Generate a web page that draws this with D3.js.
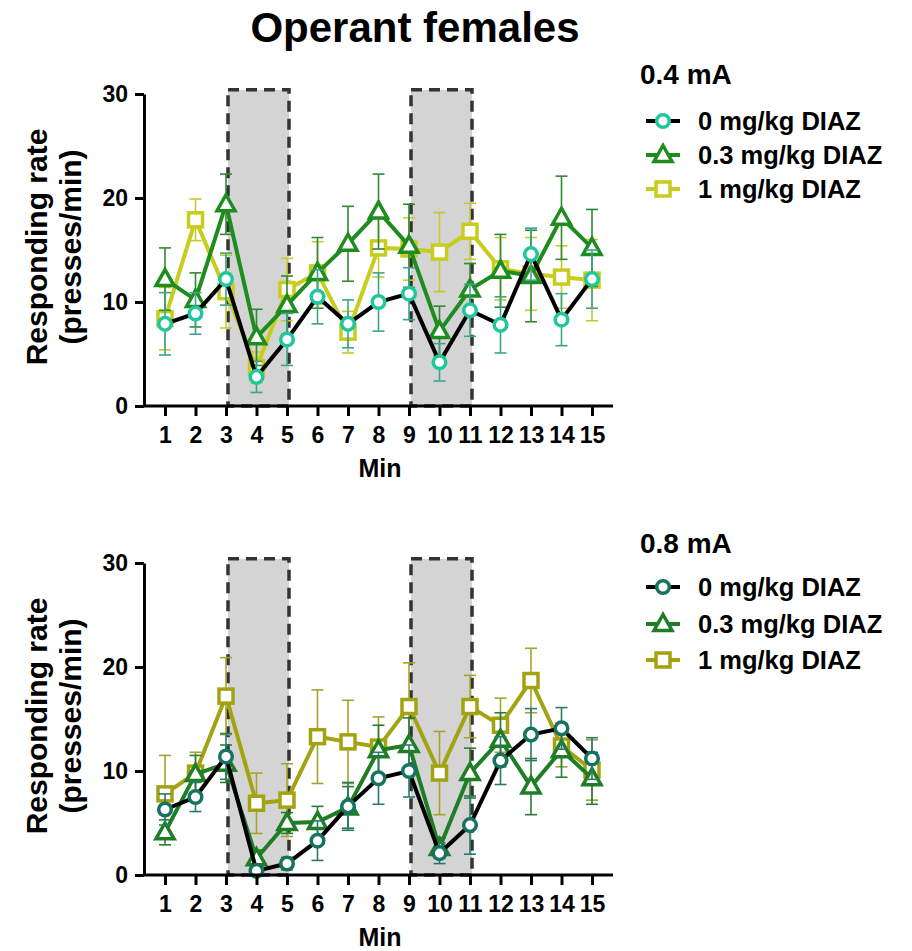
<!DOCTYPE html>
<html>
<head>
<meta charset="utf-8">
<script src="https://cdn.jsdelivr.net/npm/d3@7"></script>
<style>
  body { margin: 0; background: #fff; }
  text { font-family: "Liberation Sans", Arial, sans-serif; font-weight: bold; }
</style>
</head>
<body>
<svg id="chart" width="912" height="951"></svg>
<script>
const minutes = d3.range(1, 16);
const xTicks = minutes;
const yTicks = [0, 10, 20, 30];
const shockBlocks = [[3, 5], [9, 11]];
const doseLabels = ["0 mg/kg DIAZ", "0.3 mg/kg DIAZ", "1 mg/kg DIAZ"];

// 0.4 mA
const low0 = [7.9, 8.9, 12.2, 2.8, 6.4, 10.5, 7.9, 10.0, 10.8, 4.2, 9.2, 7.8, 14.6, 8.3, 12.2];
const low0Err = [3.0, 2.0, 2.5, 1.5, 2.5, 2.6, 2.3, 2.8, 2.5, 1.8, 2.5, 2.7, 2.5, 2.5, 2.8];
const low03 = [12.2, 10.2, 19.4, 6.6, 9.7, 12.8, 15.6, 18.7, 15.4, 7.2, 11.2, 13.0, 12.5, 18.1, 15.2];
const low03Err = [3.0, 2.6, 2.9, 2.7, 2.8, 3.4, 3.6, 3.6, 4.0, 2.4, 2.5, 3.5, 4.4, 4.0, 3.7];
const low1 = [8.4, 17.9, 11.0, 3.7, 11.2, 12.8, 7.1, 15.2, 15.1, 14.8, 16.8, 13.2, 12.7, 12.4, 12.1];
const low1Err = [3.0, 2.0, 3.5, 1.5, 3.0, 3.0, 2.0, 2.8, 3.0, 3.8, 2.7, 3.0, 3.5, 3.0, 3.9];

// 0.8 mA
const high0 = [6.3, 7.5, 11.4, 0.4, 1.1, 3.3, 6.6, 9.3, 10.0, 2.1, 4.8, 11.0, 13.5, 14.1, 11.2];
const high0Err = [1.5, 1.4, 2.2, 0.5, 0.6, 1.9, 2.3, 2.5, 2.5, 1.0, 2.8, 2.3, 2.5, 2.0, 2.0];
const high03 = [4.1, 9.7, 10.7, 1.6, 5.0, 5.1, 6.5, 12.0, 12.5, 2.6, 9.8, 13.0, 8.5, 12.0, 9.3];
const high03Err = [1.2, 1.8, 1.8, 0.8, 1.0, 1.5, 2.0, 2.4, 2.6, 1.0, 2.4, 2.6, 2.7, 2.6, 2.5];
const high1 = [7.8, 9.8, 17.2, 6.9, 7.2, 13.3, 12.8, 12.3, 16.2, 9.8, 16.2, 14.4, 18.7, 12.4, 10.1];
const high1Err = [3.7, 2.0, 3.7, 2.9, 3.5, 4.5, 4.0, 2.9, 4.2, 4.0, 3.0, 2.6, 3.1, 2.0, 2.9];

const svg = d3.select("#chart");

svg.append("text")
  .attr("x", 415).attr("y", 42)
  .attr("text-anchor", "middle")
  .style("font-size", "42px")
  .text("Operant females");

const panels = [
  {
    top: 94, title: "0.4 mA", titleY: 84, rows: [121, 155, 189],
    series: [
      { name: doseLabels[2], values: low1, err: low1Err, shape: "square", color: "#c8cc1c", line: "#c8cc1c", errColor: "#c8c830" },
      { name: doseLabels[1], values: low03, err: low03Err, shape: "triangle", color: "#1f8c1f", line: "#1f8c1f", errColor: "#2f8a2f" },
      { name: doseLabels[0], values: low0, err: low0Err, shape: "circle", color: "#20c79c", line: "#000", errColor: "#3aa58a" },
    ],
  },
  {
    top: 563, title: "0.8 mA", titleY: 553, rows: [587, 624, 660],
    series: [
      { name: doseLabels[2], values: high1, err: high1Err, shape: "square", color: "#a3a312", line: "#a3a312", errColor: "#a3a330" },
      { name: doseLabels[1], values: high03, err: high03Err, shape: "triangle", color: "#1f7d26", line: "#1f7d26", errColor: "#2b7d33" },
      { name: doseLabels[0], values: high0, err: high0Err, shape: "circle", color: "#17735f", line: "#000", errColor: "#2a7a68" },
    ],
  },
];

const PLOT_H = 312;
const LEFT = 144;

function marker(g, shape, color) {
  if (shape === "circle") {
    g.append("circle").attr("r", 6.3)
      .attr("fill", "#fff").attr("stroke", color).attr("stroke-width", 3.5);
  } else if (shape === "triangle") {
    g.append("path").attr("d", "M0,-9.5L9,6.5L-9,6.5Z")
      .attr("fill", "#fff").attr("stroke", color).attr("stroke-width", 3.5)
      .attr("stroke-linejoin", "miter");
  } else {
    g.append("rect").attr("x", -7).attr("y", -7).attr("width", 14).attr("height", 14)
      .attr("fill", "#fff").attr("stroke", color).attr("stroke-width", 3.5);
  }
}

panels.forEach((p) => {
  const x = d3.scaleLinear().domain([1, 15]).range([165, 592]);
  const y = d3.scaleLinear().domain([0, 30]).range([p.top + PLOT_H, p.top]);
  const g = svg.append("g");

  // shock blocks
  shockBlocks.forEach(([a, b]) => {
    g.append("rect")
      .attr("x", x(a) + 2).attr("y", y(30.4))
      .attr("width", x(b) - x(a)).attr("height", y(0) - y(30.4))
      .attr("fill", "#d4d4d4")
      .attr("stroke", "#333").attr("stroke-width", 3.5)
      .attr("stroke-dasharray", "11,7");
  });

  // series
  p.series.forEach((s) => {
    const pts = minutes.map((m, i) => ({ m, v: s.values[i], e: s.err[i] }));
    const eb = g.append("g");
    pts.forEach((d) => {
      eb.append("line").attr("x1", x(d.m)).attr("x2", x(d.m))
        .attr("y1", y(Math.max(0, d.v - d.e))).attr("y2", y(d.v + d.e))
        .attr("stroke", s.errColor).attr("stroke-width", 1.6);
      [d.v - d.e, d.v + d.e].forEach((yy) => {
        if (yy < 0) return;
        eb.append("line").attr("x1", x(d.m) - 6).attr("x2", x(d.m) + 6)
          .attr("y1", y(yy)).attr("y2", y(yy))
          .attr("stroke", s.errColor).attr("stroke-width", 1.6);
      });
    });
    g.append("path").datum(pts)
      .attr("fill", "none").attr("stroke", s.line).attr("stroke-width", 4)
      .attr("d", d3.line().x((d) => x(d.m)).y((d) => y(d.v)));
    pts.forEach((d) => {
      const mg = g.append("g").attr("transform", `translate(${x(d.m)},${y(d.v)})`);
      marker(mg, s.shape, s.color);
    });
  });

  // axes
  const xAxis = g.append("g").attr("transform", `translate(0,${y(0)})`)
    .call(d3.axisBottom(x).tickValues(xTicks).tickSize(10).tickPadding(11).tickSizeOuter(0));
  xAxis.select(".domain").attr("d", `M${LEFT - 1},0H${x(15) + 21}`);
  const yAxis = g.append("g").attr("transform", `translate(${LEFT},0)`)
    .call(d3.axisLeft(y).tickValues(yTicks).tickSize(9).tickPadding(7).tickSizeOuter(0));
  [xAxis, yAxis].forEach((a) => {
    a.select(".domain").attr("stroke", "#000").attr("stroke-width", 3);
    a.selectAll(".tick line").attr("stroke", "#000").attr("stroke-width", 3);
    a.selectAll(".tick text").attr("fill", "#000").style("font-size", "23px")
      .style("font-family", "'Liberation Sans', Arial, sans-serif").style("font-weight", "bold");
  });

  g.append("text")
    .attr("x", 380).attr("y", y(0) + 71)
    .attr("text-anchor", "middle").style("font-size", "25px").text("Min");

  const cy = p.top + PLOT_H / 2 - 3;
  g.append("text")
    .attr("transform", `translate(47,${cy}) rotate(-90)`)
    .attr("text-anchor", "middle").style("font-size", "30px").text("Responding rate");
  g.append("text")
    .attr("transform", `translate(81,${cy}) rotate(-90)`)
    .attr("text-anchor", "middle").style("font-size", "30px").text("(presses/min)");

  // legend
  const lg = g.append("g");
  lg.append("text").attr("x", 640).attr("y", p.titleY).style("font-size", "28px").text(p.title);
  const order = [2, 1, 0];
  order.forEach((si, row) => {
    const s = p.series[si];
    const ry = p.rows[row];
    const it = lg.append("g").attr("transform", `translate(663,${ry})`);
    it.append("line").attr("x1", -17).attr("x2", 17)
      .attr("stroke", s.line).attr("stroke-width", 4);
    const mg = it.append("g");
    marker(mg, s.shape, s.color);
    lg.append("text").attr("x", 698).attr("y", ry + 9)
      .style("font-size", "25.5px").text(s.name);
  });
});
</script>
</body>
</html>
